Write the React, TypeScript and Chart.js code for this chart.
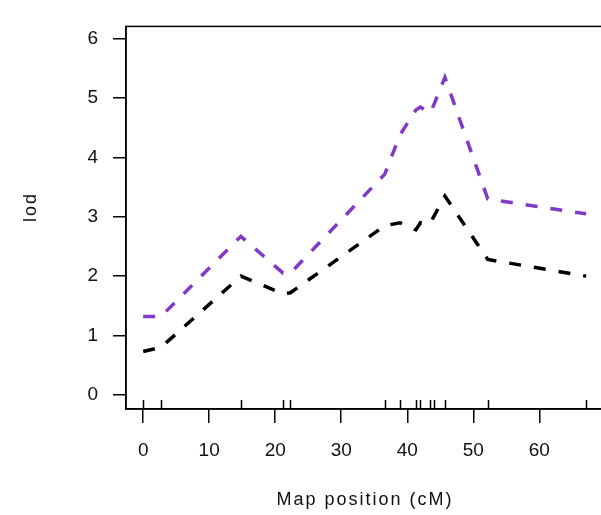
import React, { useEffect, useRef } from "react";
import { Chart, registerables } from "chart.js";

Chart.register(...registerables);

// Marker / evaluation positions (cM)
const positions = [0, 2.7, 14.8, 21.2, 22.3, 36.6, 38.9, 41.3, 42.0, 43.4, 44.0, 45.7, 52.2, 67.1];
// LOD curves
const lodPurple = [1.32, 1.32, 2.67, 2.05, 2.05, 3.72, 4.38, 4.8, 4.85, 4.75, 4.88, 5.35, 3.3, 3.05];
const lodBlack = [0.73, 0.8, 2.0, 1.7, 1.72, 2.85, 2.9, 2.78, 2.9, 2.88, 3.0, 3.35, 2.28, 2.0];
// Marker positions for rug ticks
const markers = [0, 2.7, 14.8, 21.2, 22.3, 36.6, 38.9, 41.3, 42.0, 43.4, 44.0, 45.7, 52.2, 67.1];
// Tick labels
const xTicks = [0, 10, 20, 30, 40, 50, 60];
const yTicks = [0, 1, 2, 3, 4, 5, 6];

const xTitle = "Map position (cM)";
const yTitle = "lod";

const FONT = "'Liberation Sans', Arial, Helvetica, sans-serif";

export default function App() {
  const ref = useRef<HTMLCanvasElement | null>(null);

  useEffect(() => {
    if (!ref.current) return;
    const decor = {
      id: "decor",
      afterDraw(chart: any) {
        const { ctx, chartArea } = chart;
        const xs = chart.scales.x;
        ctx.save();
        // box
        ctx.strokeStyle = "#000";
        ctx.lineWidth = 1.5;
        ctx.strokeRect(chartArea.left, chartArea.top, chartArea.right - chartArea.left, chartArea.bottom - chartArea.top);
        // rug ticks
        ctx.beginPath();
        for (const m of markers) {
          const px = Math.round(xs.getPixelForValue(m)) + 0.5;
          ctx.moveTo(px, chartArea.bottom);
          ctx.lineTo(px, chartArea.bottom - 9);
        }
        ctx.lineWidth = 1.5;
        ctx.stroke();
        // titles
        ctx.fillStyle = "#111";
        ctx.font = "18px " + FONT;
        try { (ctx as any).letterSpacing = "2px"; } catch (e) {}
        ctx.textAlign = "center";
        ctx.textBaseline = "alphabetic";
        ctx.fillText(xTitle, (chartArea.left + chartArea.right) / 2, 505);
        ctx.translate(36, 207);
        ctx.rotate(-Math.PI / 2);
        ctx.fillText(yTitle, 0, 0);
        ctx.restore();
      },
    };

    const chart = new Chart(ref.current, {
      type: "line",
      data: {
        datasets: [
          {
            data: positions.map((x, i) => ({ x, y: lodPurple[i] })),
            borderColor: "rgb(128,58,200)",
            borderWidth: 3.5,
            borderDash: [12, 13],
            pointRadius: 0,
            tension: 0,
            fill: false,
          },
          {
            data: positions.map((x, i) => ({ x, y: lodBlack[i] })),
            borderColor: "#000",
            borderWidth: 3.5,
            borderDash: [12, 13],
            pointRadius: 0,
            tension: 0,
            fill: false,
          },
        ],
      },
      options: {
        responsive: false,
        animation: false,
        layout: { padding: { left: 0, top: 10, right: 8, bottom: 0 } },
        plugins: { legend: { display: false }, tooltip: { enabled: false }, title: { display: false } },
        scales: {
          x: {
            type: "linear",
            min: -2.6,
            max: 69.8,
            afterBuildTicks: (s: any) => { s.ticks = xTicks.map((v) => ({ value: v })); },
            afterFit: (s: any) => { s.height = 106; },
            grid: { drawOnChartArea: false, drawTicks: true, tickLength: 14, color: "#000", lineWidth: 1.5 },
            border: { display: true, color: "#000", width: 1.5 },
            ticks: { font: { size: 19, family: FONT }, color: "#111", padding: 16, maxRotation: 0, autoSkip: false },
          },
          y: {
            type: "linear",
            min: -0.24,
            max: 6.21,
            afterBuildTicks: (s: any) => { s.ticks = yTicks.map((v) => ({ value: v })); },
            afterFit: (s: any) => { s.width = 126; },
            grid: { drawOnChartArea: false, drawTicks: true, tickLength: 13, color: "#000", lineWidth: 1.5 },
            border: { display: true, color: "#000", width: 1.5 },
            ticks: { font: { size: 19, family: FONT }, color: "#111", padding: 15, autoSkip: false },
          },
        },
      },
      plugins: [decor],
    } as any);
    return () => chart.destroy();
  }, []);

  return (
    <div style={{ position: "fixed", left: 0, top: 0, width: 601, height: 515, overflow: "hidden", background: "#fff" }}>
      <canvas ref={ref} width={612} height={515} style={{ display: "block" }} />
    </div>
  );
}
